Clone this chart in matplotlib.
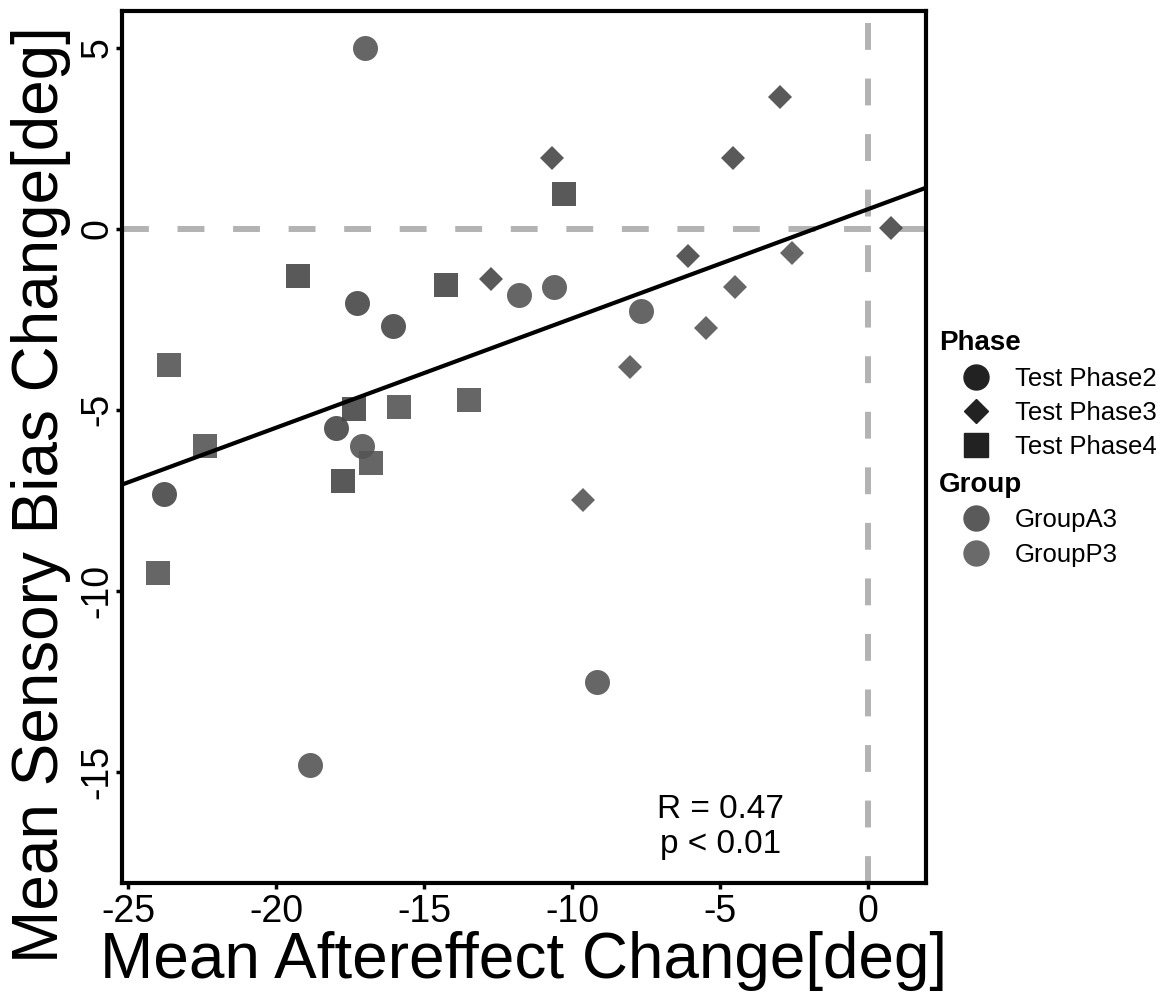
import matplotlib
matplotlib.use("Agg")
import matplotlib.pyplot as plt
from matplotlib.lines import Line2D
import numpy as np

plt.rcParams["font.family"] = ["Liberation Sans", "DejaVu Sans"]
plt.rcParams["axes.unicode_minus"] = False

# Test Phase2 (circles)
p2_x = [-17.0, -17.26, -16.05, -11.79, -10.61, -7.67, -17.97, -17.09, -23.78, -9.16, -18.85]
p2_y = [5.0, -2.04, -2.68, -1.82, -1.60, -2.27, -5.50, -5.99, -7.32, -12.51, -14.81]
p2_g = ["P3", "A3", "A3", "P3", "P3", "P3", "A3", "P3", "A3", "P3", "P3"]

# Test Phase3 (diamonds)
p3_x = [-10.68, -4.56, -2.97, -12.74, -6.08, -2.57, 0.78, -4.49, -5.47, -8.04, -9.63]
p3_y = [1.96, 1.96, 3.65, -1.38, -0.75, -0.66, 0.03, -1.60, -2.73, -3.81, -7.49]
p3_g = ["A3", "A3", "A3", "A3", "A3", "P3", "A3", "P3", "P3", "P3", "P3"]

# Test Phase4 (squares)
p4_x = [-10.27, -13.48, -14.24, -19.26, -23.61, -17.36, -15.84, -22.40, -16.79, -17.74, -23.99]
p4_y = [0.97, -4.72, -1.55, -1.30, -3.76, -4.97, -4.92, -5.99, -6.46, -6.96, -9.50]
p4_g = ["A3", "P3", "A3", "A3", "P3", "A3", "P3", "P3", "P3", "A3", "P3"]

phases = ["Test Phase2", "Test Phase3", "Test Phase4"]
groups = ["GroupA3", "GroupP3"]
group_colors = {"A3": "#474747", "P3": "#555555"}
stat_text = "R = 0.47\np < 0.01"

fig = plt.figure(figsize=(11.68, 9.92), dpi=100)
ax = fig.add_axes([0.1045, 0.110, 0.6883, 0.879])

series = [
    (p2_x, p2_y, p2_g, "o", 18),
    (p3_x, p3_y, p3_g, "D", 12),
    (p4_x, p4_y, p4_g, "s", 17),
]
for xs, ys, gs, mk, ms in series:
    for x, y, g in zip(xs, ys, gs):
        ax.plot(x, y, marker=mk, markersize=ms, color=group_colors[g],
                markeredgewidth=0, alpha=0.9, linestyle="none", zorder=3)

# reference lines
h = ax.axhline(0, color="#b3b3b3", lw=4.3, zorder=1)
h.set_dashes((4.5, 4.8))
v = ax.axvline(0, color="#b3b3b3", lw=4.3, zorder=1)
v.set_dashes((4.5, 4.8))

# linear fit over all points
all_x = np.array(p2_x + p3_x + p4_x)
all_y = np.array(p2_y + p3_y + p4_y)
slope, icpt = np.polyfit(all_x, all_y, 1)
xlim = (-25.2, 1.96)
xx = np.array(xlim)
ax.plot(xx, slope * xx + icpt, color="black", lw=3, zorder=4)

ax.set_xlim(*xlim)
ax.set_ylim(-18.07, 6.02)
ax.set_xticks([-25, -20, -15, -10, -5, 0])
ax.set_yticks([-15, -10, -5, 0, 5])
ax.tick_params(axis="both", labelsize=27, width=2.5, length=4, color="black",
               labelcolor="black")
ax.tick_params(axis="x", pad=4)
ax.tick_params(axis="y", pad=1)
for lab in ax.get_yticklabels():
    lab.set_rotation(90)
    lab.set_va("center")
for sp in ax.spines.values():
    sp.set_linewidth(3)

fig.text(0.4486, 0.0141, "Mean Aftereffect Change[deg]", fontsize=46,
         ha="center", va="baseline")
fig.text(0.009, 0.501, "Mean Sensory Bias Change[deg]", fontsize=46,
         rotation=90, ha="left", va="center")

ax.text(-4.97, -16.52, stat_text, fontsize=24, ha="center", va="center",
        linespacing=1.15)

# legends
phase_handles = [
    Line2D([], [], marker="o", markersize=18, color="#222222", linestyle="none"),
    Line2D([], [], marker="D", markersize=12, color="#222222", linestyle="none"),
    Line2D([], [], marker="s", markersize=17, color="#222222", linestyle="none"),
]
group_handles = [
    Line2D([], [], marker="o", markersize=18, color="#5a5a5a", linestyle="none"),
    Line2D([], [], marker="o", markersize=18, color="#6a6a6a", linestyle="none"),
]
leg_kw = dict(loc="upper left", frameon=False, fontsize=18.5,
              title_fontproperties={"weight": "bold", "size": 20},
              labelspacing=0.4, handletextpad=0.1, handlelength=2.85,
              borderaxespad=0, borderpad=0)
leg1 = fig.legend(phase_handles, phases, title="Phase",
                  bbox_to_anchor=(0.804, 0.667), **leg_kw)
leg1._legend_box.align = "left"
leg2 = fig.legend(group_handles, groups, title="Group",
                  bbox_to_anchor=(0.804, 0.524), **leg_kw)
leg2._legend_box.align = "left"

fig.savefig("out.png", dpi=100)
